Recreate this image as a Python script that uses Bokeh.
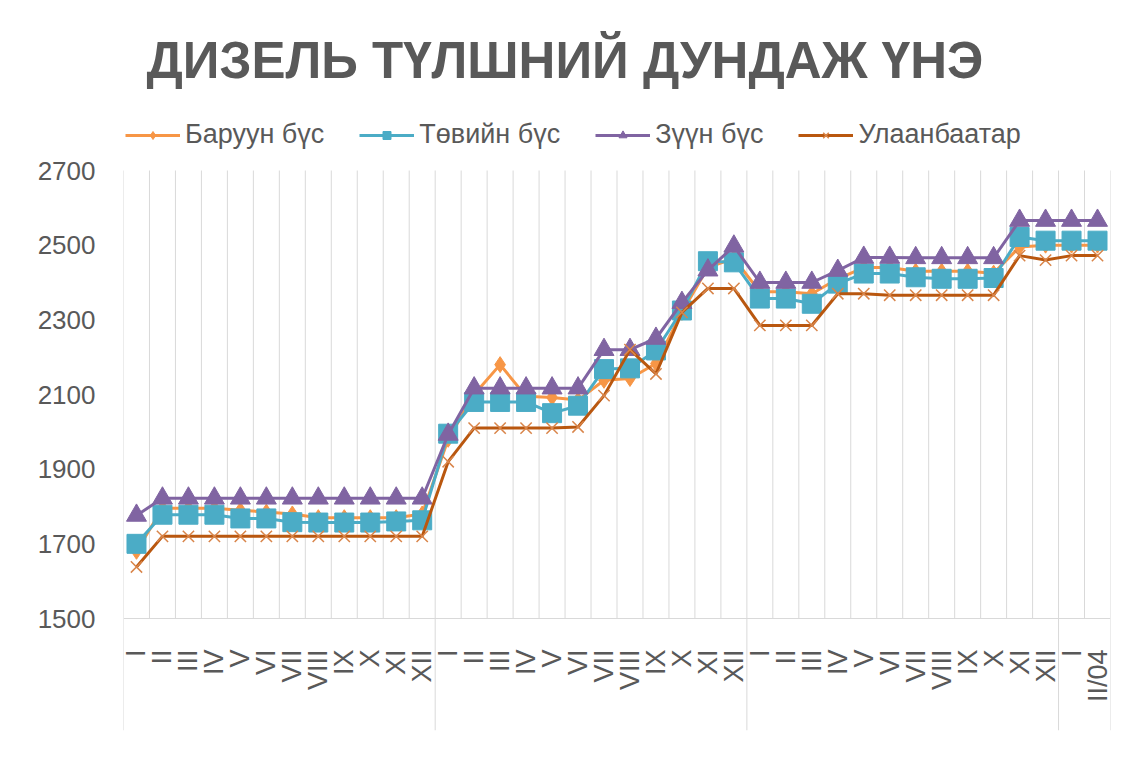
import math
from bokeh.plotting import figure
from bokeh.models import Range1d, FixedTicker, Legend, LegendItem
from bokeh.core.properties import value
from bokeh.embed import file_html
from bokeh.resources import INLINE

# ---------------- data ----------------
months = ["I", "II", "III", "IV", "V", "VI", "VII", "VIII", "IX", "X", "XI", "XII",
          "I", "II", "III", "IV", "V", "VI", "VII", "VIII", "IX", "X", "XI", "XII",
          "I", "II", "III", "IV", "V", "VI", "VII", "VIII", "IX", "X", "XI", "XII",
          "I", "II/04"]
group_sizes = [12, 12, 12, 2]

baruun = [1680, 1795, 1795, 1795, 1790, 1785, 1780, 1770, 1770, 1770, 1770, 1780,
          1980, 2100, 2180, 2095, 2092, 2085, 2138, 2143, 2183, 2320, 2440, 2465,
          2375, 2375, 2370, 2410, 2440, 2440, 2430, 2430, 2430, 2425, 2495, 2500,
          2500, 2500]
tuv = [1700, 1778, 1778, 1778, 1768, 1768, 1758, 1757, 1757, 1757, 1760, 1763,
       1995, 2080, 2080, 2080, 2050, 2070, 2168, 2170, 2218, 2325, 2457, 2454,
       2357, 2357, 2343, 2397, 2424, 2424, 2414, 2410, 2410, 2412, 2522, 2512,
       2512, 2512]
zuun = [1776, 1822, 1822, 1822, 1822, 1822, 1822, 1822, 1822, 1822, 1822, 1822,
        1993, 2117, 2117, 2117, 2117, 2117, 2220, 2220, 2250, 2346, 2433, 2497,
        2400, 2400, 2400, 2432, 2467, 2467, 2466, 2466, 2466, 2466, 2566, 2566,
        2566, 2566]
ulaanbaatar = [1638, 1720, 1720, 1720, 1720, 1720, 1720, 1720, 1720, 1720, 1720, 1720,
               1920, 2010, 2010, 2010, 2010, 2013, 2097, 2220, 2155, 2320, 2384, 2384,
               2285, 2285, 2285, 2370, 2370, 2366, 2366, 2366, 2366, 2366, 2472, 2460,
               2472, 2472]

series_names = ["Баруун бүс", "Төвийн бүс", "Зүүн бүс", "Улаанбаатар"]
y_ticks = [1500, 1700, 1900, 2100, 2300, 2500, 2700]
title_text = "ДИЗЕЛЬ ТҮЛШНИЙ ДУНДАЖ ҮНЭ"

# ---------------- layout / styling ----------------
FONT = "Liberation Sans"
TEXT_COLOR = "#595959"
GRID_COLOR = "#D9D9D9"

PLOT_H = 448          # px between lowest and highest y tick
LABEL_AREA = 112      # px for the category label band below the axis
TOP_AREA = 70         # px above the top tick (legend area)
FRAME_W = 987
ppu = PLOT_H / (y_ticks[-1] - y_ticks[0])
y_lo = y_ticks[0] - LABEL_AREA / ppu
y_hi = y_ticks[-1] + TOP_AREA / ppu

n = len(months)
xs = list(range(n))
boundaries_all = [i - 0.5 for i in range(n + 1)]
group_bounds = [-0.5]
acc = -0.5
for g in group_sizes:
    acc += g
    group_bounds.append(acc)

p = figure(frame_width=FRAME_W, frame_height=PLOT_H + LABEL_AREA + TOP_AREA,
           output_backend="svg", toolbar_location=None,
           x_range=Range1d(-0.5, n - 0.5), y_range=Range1d(y_lo, y_hi),
           min_border_left=123, min_border_right=21, min_border_top=100,
           min_border_bottom=25)
p.background_fill_color = "white"
p.border_fill_color = "white"
p.outline_line_color = None

# title
p.title.text = title_text
p.title.text_font = FONT
p.title.text_font_size = "51px"
p.title.text_font_style = "bold"
p.title.text_color = TEXT_COLOR
p.title.align = "left"
p.title.offset = 23
p.title.standoff = 23

# axes
p.xaxis.visible = False
ya = p.yaxis[0]
ya.ticker = FixedTicker(ticks=y_ticks)
ya.axis_line_color = None
ya.major_tick_line_color = None
ya.minor_tick_line_color = None
ya.major_label_standoff = 22
ya.major_label_text_font = FONT
ya.major_label_text_font_size = "26px"
ya.major_label_text_color = TEXT_COLOR
p.xgrid.grid_line_color = None
p.ygrid.grid_line_color = None

# category grid lines, axis line and group separators
nb = len(boundaries_all)
p.segment(x0=boundaries_all, y0=[y_ticks[0]] * nb, x1=boundaries_all,
          y1=[y_ticks[-1]] * nb, line_color=GRID_COLOR, line_width=1)
ng = len(group_bounds)
p.segment(x0=group_bounds, y0=[y_lo] * ng, x1=group_bounds, y1=[y_ticks[0]] * ng,
          line_color=GRID_COLOR, line_width=1)
p.segment(x0=[boundaries_all[0]], y0=[y_ticks[0]], x1=[boundaries_all[-1]],
          y1=[y_ticks[0]], line_color=GRID_COLOR, line_width=1)

# category labels (rotated)
p.text(x=xs, y=[y_ticks[0]] * n, text=months, angle=math.pi / 2, y_offset=31,
       text_align="right", text_baseline="middle", text_font=value(FONT),
       text_font_size="27px", text_color=TEXT_COLOR)

# series
specs = [
    (baruun, "#F79646", "diamond", 16),
    (tuv, "#4BACC6", "square", 19),
    (zuun, "#8064A2", "triangle", 20),
    (ulaanbaatar, "#B9570F", "x", 16),
]
items = []
for name, (vals, col, mk, sz) in zip(series_names, specs):
    lr = p.line(xs, vals, line_color=col, line_width=3)
    if mk == "x":
        sr = p.scatter(xs, vals, marker=mk, size=sz, line_color="#D9854A",
                       line_width=1.5)
    else:
        sr = p.scatter(xs, vals, marker=mk, size=sz, fill_color=col, line_color=col)
    items.append(LegendItem(label=name, renderers=[lr, sr]))

legend = Legend(items=items, orientation="horizontal",
                location=(2, LABEL_AREA + PLOT_H + 20), margin=0,
                padding=0, spacing=35, glyph_width=55, glyph_height=20,
                label_standoff=5, label_text_font=FONT, label_text_font_size="27px",
                label_text_color=TEXT_COLOR, border_line_color=None,
                background_fill_alpha=0)
p.add_layout(legend, "center")

open("out.html", "w").write(file_html(p, INLINE))
